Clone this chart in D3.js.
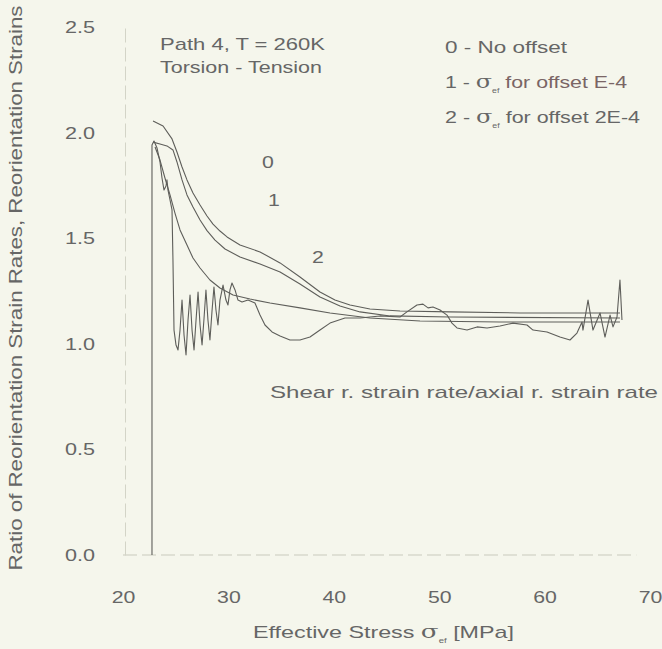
<!DOCTYPE html>
<html>
<head>
<meta charset="utf-8">
<script src="https://cdn.jsdelivr.net/npm/d3@7"></script>
<style>
  body { margin: 0; background: #f5f6ec; }
  svg { display: block; }
  text { font-family: "Liberation Sans", Arial, sans-serif; fill: #666; }
</style>
</head>
<body>
<svg id="chart" width="662" height="649"></svg>
<script>
var width = 662;
var height = 649;

var xTicks = [20, 30, 40, 50, 60, 70];
var yTicks = [0.0, 0.5, 1.0, 1.5, 2.0, 2.5];

// smooth curve 0 - no offset  [stress MPa, ratio]
var curveNoOffset = [
    [22.85, 2.055], [23.80, 2.031], [24.65, 1.970], [25.12, 1.908], [25.60, 1.837],
    [26.07, 1.776], [26.64, 1.714], [27.31, 1.657], [27.97, 1.605], [28.54, 1.567],
    [29.20, 1.534], [29.87, 1.506], [31.10, 1.468], [33.00, 1.435], [34.90, 1.383],
    [36.79, 1.316], [38.69, 1.245], [40.11, 1.207], [41.54, 1.184], [43.43, 1.165],
    [46.28, 1.155], [51.02, 1.151], [57.67, 1.146], [67.15, 1.146]
];
// curve 1 - offset E-4
var curveOffset1 = [
    [22.85, 1.955], [23.51, 1.946], [24.17, 1.937], [24.74, 1.918], [25.12, 1.861],
    [25.60, 1.776], [26.07, 1.705], [26.64, 1.648], [27.31, 1.586], [27.97, 1.536],
    [28.73, 1.491], [29.68, 1.449], [31.10, 1.411], [33.00, 1.378], [34.90, 1.340],
    [36.79, 1.283], [38.69, 1.222], [40.59, 1.179], [42.49, 1.151], [45.33, 1.132],
    [51.02, 1.127], [67.15, 1.122]
];
// curve 2 - offset 2E-4
var curveOffset2 = [
    [23.04, 1.932], [23.51, 1.870], [23.98, 1.785], [24.46, 1.705], [24.93, 1.619],
    [25.41, 1.539], [26.07, 1.468], [26.64, 1.406], [27.31, 1.359], [28.25, 1.302],
    [29.20, 1.264], [30.44, 1.231], [32.05, 1.212], [33.95, 1.193], [36.79, 1.170],
    [39.64, 1.146], [43.43, 1.122], [48.18, 1.108], [55.77, 1.103], [67.15, 1.103]
];
// shear r. strain rate / axial r. strain rate (raw, noisy)
var curveRateRatio = [
    [22.75, 0], [22.75, 1.941], [22.94, 1.960], [23.23, 1.927], [23.51, 1.861],
    [23.70, 1.785], [23.89, 1.728], [24.08, 1.747], [24.17, 1.776], [24.27, 1.728],
    [24.46, 1.681], [24.65, 1.634], [24.74, 1.397], [24.84, 1.065], [25.03, 0.994],
    [25.22, 0.971], [25.41, 1.065], [25.60, 1.207], [25.79, 1.042], [25.98, 0.947],
    [26.17, 1.113], [26.36, 1.231], [26.55, 1.065], [26.74, 0.971], [26.93, 1.113],
    [27.12, 1.245], [27.31, 1.089], [27.50, 0.994], [27.69, 1.122], [27.87, 1.255],
    [28.06, 1.113], [28.25, 1.018], [28.44, 1.151], [28.63, 1.269], [28.82, 1.160],
    [29.01, 1.089], [29.20, 1.207], [29.49, 1.278], [29.77, 1.207], [29.96, 1.184],
    [30.15, 1.255], [30.34, 1.288], [30.63, 1.255], [30.91, 1.207], [31.29, 1.198],
    [31.86, 1.207], [32.52, 1.193], [33.00, 1.136], [33.47, 1.089], [34.14, 1.056],
    [34.90, 1.037], [35.84, 1.018], [36.79, 1.018], [37.74, 1.032], [38.69, 1.065],
    [39.64, 1.098], [41.06, 1.122], [42.49, 1.122], [44.38, 1.132], [46.28, 1.127],
    [46.94, 1.151], [47.89, 1.184], [48.46, 1.188], [48.94, 1.170], [49.41, 1.174],
    [50.08, 1.160], [50.74, 1.136], [51.21, 1.098], [51.69, 1.075], [52.64, 1.065],
    [53.59, 1.080], [54.54, 1.075], [55.77, 1.084], [57.00, 1.098], [58.33, 1.089],
    [58.90, 1.065], [60.23, 1.056], [61.46, 1.032], [62.41, 1.018], [63.07, 1.051],
    [63.55, 1.103], [63.64, 1.065], [64.12, 1.207], [64.59, 1.065], [65.26, 1.146],
    [65.73, 1.032], [66.21, 1.136], [66.49, 1.080], [66.87, 1.127], [67.15, 1.302],
    [67.34, 1.113]
];

var curves = [curveNoOffset, curveOffset1, curveOffset2, curveRateRatio];

// curve labels "0", "1", "2"  [stress, ratio, label]
var curveLabels = [[33.76, 1.86, "0"], [34.33, 1.68, "1"], [38.5, 1.41, "2"]];

var svg = d3.select("#chart");

// stretch a text to a given length (the source font is wide)
function fitTo(sel, len) {
    sel.attr("textLength", len).attr("lengthAdjust", "spacingAndGlyphs");
}
function widen(sel, k) {
    sel.each(function() {
        var w = this.getComputedTextLength();
        d3.select(this).attr("textLength", w * k).attr("lengthAdjust", "spacingAndGlyphs");
    });
}

var x = d3.scaleLinear().domain([20, 70]).range([123, 650]);
var y = d3.scaleLinear().domain([0, 2.5]).range([555, 27]);

var xAxis = svg.append("g")
    .attr("transform", "translate(0," + y(0) + ")")
    .call(d3.axisBottom(x).tickValues(xTicks).tickSize(0).tickPadding(36));
xAxis.select(".domain")
    .attr("d", "M" + x(20) + ",0H" + x(68.7))
    .attr("stroke", "#c9cabd")
    .attr("stroke-dasharray", "14,5");
xAxis.selectAll("text")
    .style("font-size", "17px")
    .attr("fill", "#666")
    .call(widen, 1.25);

var yAxis = svg.append("g")
    .attr("transform", "translate(" + (x(20) + 2) + ",0)")
    .call(d3.axisLeft(y).tickValues(yTicks).tickFormat(d3.format(".1f")).tickSize(0).tickPadding(30));
yAxis.select(".domain")
    .attr("stroke", "#d3d4c7")
    .attr("stroke-dasharray", "14,5");
yAxis.selectAll("text")
    .style("font-size", "17px")
    .attr("fill", "#666")
    .call(widen, 1.27);

var line = d3.line()
    .x(function(d) { return x(d[0]); })
    .y(function(d) { return y(d[1]); });

svg.append("g").selectAll("path")
    .data(curves)
    .enter().append("path")
    .attr("d", line)
    .attr("fill", "none")
    .attr("stroke", "#5e5e5a")
    .attr("stroke-width", 1.1)
    .attr("stroke-linejoin", "round");

svg.append("g").selectAll("text")
    .data(curveLabels)
    .enter().append("text")
    .attr("x", function(d) { return x(d[0]); })
    .attr("y", function(d) { return y(d[1]); })
    .attr("dy", "0.35em")
    .attr("text-anchor", "middle")
    .style("font-size", "17px")
    .text(function(d) { return d[2]; })
    .call(widen, 1.25);

// notes
svg.append("text").attr("x", 160).attr("y", 50).style("font-size", "17px")
    .text("Path 4, T = 260K").call(fitTo, 165);
svg.append("text").attr("x", 160).attr("y", 73).style("font-size", "17px")
    .text("Torsion - Tension").call(fitTo, 162);
svg.append("text").attr("x", 270).attr("y", 398).style("font-size", "17px")
    .text("Shear r. strain rate/axial r. strain rate").call(fitTo, 388);

// legend
svg.append("text").attr("x", 445).attr("y", 53).style("font-size", "17px")
    .text("0 - No offset").call(fitTo, 122);

function sigmaLine(yPos, num, rest, len, restColor) {
    var t = svg.append("text").attr("x", 445).attr("y", yPos).style("font-size", "17px");
    t.append("tspan").text(num + " - ");
    t.append("tspan").style("font-family", "'DejaVu Serif', serif").style("font-size", "19px").text("σ");
    t.append("tspan").attr("dy", 5).style("font-size", "7px").text("ef");
    t.append("tspan").attr("dy", -5).attr("fill", restColor).text(" for offset " + rest);
    t.call(fitTo, len);
}
sigmaLine(88, "1", "E-4", 182, "#7a6565");
sigmaLine(123, "2", "2E-4", 195, "#666");

// axis titles
var xt = svg.append("text").attr("x", 253).attr("y", 638).style("font-size", "17px");
xt.append("tspan").text("Effective Stress  ");
xt.append("tspan").style("font-family", "'DejaVu Serif', serif").style("font-size", "19px").text("σ");
xt.append("tspan").attr("dy", 5).style("font-size", "7px").text("ef");
xt.append("tspan").attr("dy", -5).text(" [MPa]");
xt.call(fitTo, 261);

svg.append("text")
    .attr("transform", "translate(22,288) rotate(-90)")
    .attr("text-anchor", "middle")
    .style("font-size", "18px")
    .text("Ratio of Reorientation Strain Rates, Reorientation Strains")
    .call(fitTo, 565);
</script>
</body>
</html>
